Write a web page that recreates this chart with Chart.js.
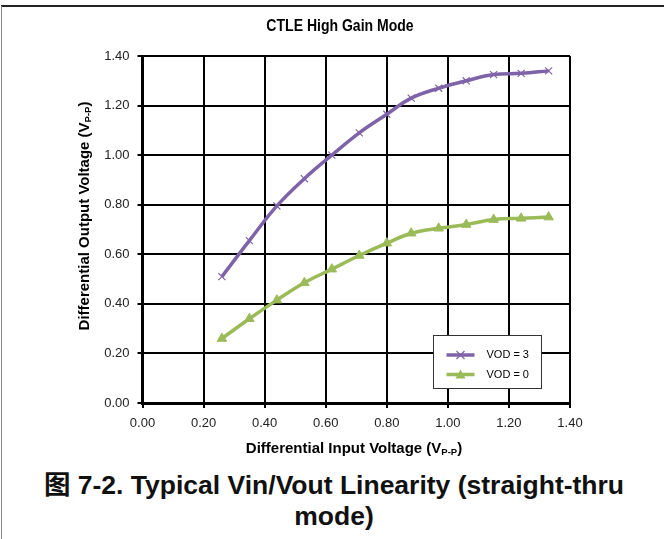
<!DOCTYPE html>
<html>
<head>
<meta charset="utf-8">
<script src="https://cdn.jsdelivr.net/npm/chart.js@4"></script>
<style>
  html, body { margin: 0; padding: 0; background: #fff; }
  #page { position: relative; width: 664px; height: 539px; overflow: hidden; }
  #frameTop { position: absolute; left: 1px; top: 5px; width: 663px; height: 2px; background: #222; }
  #frameLeft { position: absolute; left: 1px; top: 6px; width: 1px; height: 533px; background: #888; }
  #chartWrap { position: absolute; left: 0; top: 0; width: 664px; height: 470px; }
  #caption {
    position: absolute; left: 0; top: 470px; width: 668px; text-align: center;
    font: bold 26.5px 'Liberation Sans', Arial, 'Noto Sans CJK SC', sans-serif;
    line-height: 31px; color: #111;
  }
</style>
</head>
<body>
<div id="page">
  <div id="frameTop"></div>
  <div id="frameLeft"></div>
  <div id="chartWrap"><canvas id="linearityChart" width="664" height="470"></canvas></div>
  <div id="caption">图 7-2. Typical Vin/Vout Linearity (straight-thru<br>mode)</div>
</div>
<script>
// Differential input voltage (V P-P) - same sweep for both curves
const vin = [0.26, 0.35, 0.44, 0.53, 0.62, 0.71, 0.80, 0.88, 0.97, 1.06, 1.15, 1.24, 1.33];
const voutVod3 = [0.51, 0.655, 0.795, 0.905, 1.00, 1.09, 1.165, 1.23, 1.27, 1.30, 1.325, 1.33, 1.34];
const voutVod0 = [0.26, 0.34, 0.415, 0.485, 0.54, 0.595, 0.645, 0.685, 0.705, 0.72, 0.74, 0.745, 0.75];
const seriesLabels = ['VOD = 3', 'VOD = 0'];
const xTicks = [0, 0.2, 0.4, 0.6, 0.8, 1.0, 1.2, 1.4];
const yTicks = [0, 0.2, 0.4, 0.6, 0.8, 1.0, 1.2, 1.4];

const chartTitle = 'CTLE High Gain Mode';
const xTitle = ['Differential Input Voltage (V', 'P-P', ')'];
const yTitle = ['Differential Output Voltage (V', 'P-P', ')'];

const PURPLE = '#7f63a8';
const GREEN = '#9bbb59';
const SANS = "'Liberation Sans', Arial, sans-serif";

const toPoints = (xs, ys) => xs.map((x, i) => ({ x: x, y: ys[i] }));

// axis titles with a subscript "P-P", drawn by hand since Chart.js titles are plain text
function drawSubTitle(ctx, parts, cx, cy, rotation) {
    const mainFont = 'bold 15px ' + SANS;
    const subFont = 'bold 9.5px ' + SANS;
    ctx.save();
    ctx.translate(cx, cy);
    ctx.rotate(rotation);
    ctx.fillStyle = '#000';
    ctx.textBaseline = 'middle';
    ctx.textAlign = 'left';
    ctx.font = mainFont;
    const w0 = ctx.measureText(parts[0]).width;
    const w2 = ctx.measureText(parts[2]).width;
    ctx.font = subFont;
    const w1 = ctx.measureText(parts[1]).width;
    let x = -(w0 + w1 + w2) / 2;
    ctx.font = mainFont;
    ctx.fillText(parts[0], x, 0);
    x += w0;
    ctx.font = subFont;
    ctx.fillText(parts[1], x, 3);
    x += w1;
    ctx.font = mainFont;
    ctx.fillText(parts[2], x, 0);
    ctx.restore();
}

const titles = {
    id: 'titles',
    afterDraw(chart) {
        const c = chart.ctx;
        c.save();
        c.translate(340, 26);
        c.scale(0.85, 1);   // original title uses a narrow face
        c.fillStyle = '#000';
        c.font = 'bold 16.5px ' + SANS;
        c.textAlign = 'center';
        c.textBaseline = 'middle';
        c.fillText(chartTitle, 0, 0);
        c.restore();
        drawSubTitle(c, xTitle, 354, 449, 0);
        drawSubTitle(c, yTitle, 85, 216, -Math.PI / 2);
    }
};

// boxed legend sitting inside the plot, lower right
const insideLegend = {
    id: 'insideLegend',
    afterDraw(chart) {
        const ctx = chart.ctx;
        const a = chart.chartArea;
        const bx = Math.round(a.right - 137) + 0.5;
        const by = Math.round(a.bottom - 68) + 0.5;
        const bw = 108, bh = 53;
        ctx.save();
        ctx.fillStyle = '#fff';
        ctx.fillRect(bx, by, bw, bh);
        ctx.strokeStyle = '#333';
        ctx.lineWidth = 1;
        ctx.strokeRect(bx, by, bw, bh);
        chart.data.datasets.forEach((ds, i) => {
            const y = by + 19.5 + i * 19.5;
            const x0 = bx + 13, x1 = bx + 41, mx = (x0 + x1) / 2;
            ctx.strokeStyle = ds.borderColor;
            ctx.lineWidth = 3.5;
            ctx.beginPath();
            ctx.moveTo(x0, y);
            ctx.lineTo(x1, y);
            ctx.stroke();
            if (ds.pointStyle === 'crossRot') {
                ctx.lineWidth = 1.2;
                ctx.beginPath();
                ctx.moveTo(mx - 4, y - 4); ctx.lineTo(mx + 4, y + 4);
                ctx.moveTo(mx + 4, y - 4); ctx.lineTo(mx - 4, y + 4);
                ctx.stroke();
            } else {
                ctx.fillStyle = ds.backgroundColor;
                ctx.beginPath();
                ctx.moveTo(mx, y - 5); ctx.lineTo(mx + 5, y + 4); ctx.lineTo(mx - 5, y + 4);
                ctx.closePath();
                ctx.fill();
            }
            ctx.fillStyle = '#000';
            ctx.font = '11px ' + SANS;
            ctx.textBaseline = 'middle';
            ctx.textAlign = 'left';
            ctx.fillText(ds.label, bx + 53, y);
        });
        ctx.restore();
    }
};

const ctx = document.getElementById('linearityChart');

new Chart(ctx, {
    type: 'scatter',
    data: {
        datasets: [{
            label: seriesLabels[0],
            data: toPoints(vin, voutVod3),
            showLine: true,
            borderColor: PURPLE,
            backgroundColor: PURPLE,
            borderWidth: 3.5,
            tension: 0.4,
            pointStyle: 'crossRot',
            pointRadius: 5,
            pointBorderWidth: 1.2
        }, {
            label: seriesLabels[1],
            data: toPoints(vin, voutVod0),
            showLine: true,
            borderColor: GREEN,
            backgroundColor: GREEN,
            borderWidth: 3.5,
            tension: 0.4,
            pointStyle: 'triangle',
            pointRadius: 5.5,
            pointBorderWidth: 1
        }]
    },
    options: {
        responsive: false,
        animation: false,
        devicePixelRatio: 1,
        layout: { padding: { left: 0, right: 94, top: 56, bottom: 0 } },
        scales: {
            x: {
                type: 'linear',
                min: 0,
                max: 1.4,
                afterBuildTicks: (s) => { s.ticks = xTicks.map(v => ({ value: v })); },
                afterFit: (s) => { s.height = 67; },
                ticks: {
                    padding: 8,
                    color: '#222',
                    font: { family: SANS, size: 13 },
                    callback: (v) => v.toFixed(2)
                },
                grid: { color: '#000', lineWidth: 2, tickLength: 5 },
                border: { color: '#000', width: 3 }
            },
            y: {
                type: 'linear',
                min: 0,
                max: 1.4,
                afterBuildTicks: (s) => { s.ticks = yTicks.map(v => ({ value: v })); },
                afterFit: (s) => { s.width = 142.5; },
                ticks: {
                    padding: 8,
                    color: '#222',
                    font: { family: SANS, size: 13 },
                    callback: (v) => v.toFixed(2)
                },
                grid: { color: '#000', lineWidth: 2, tickLength: 5 },
                border: { color: '#000', width: 3 }
            }
        },
        plugins: {
            legend: { display: false },
            tooltip: { enabled: false },
            title: { display: false }
        }
    },
    plugins: [titles, insideLegend]
});
</script>
</body>
</html>
